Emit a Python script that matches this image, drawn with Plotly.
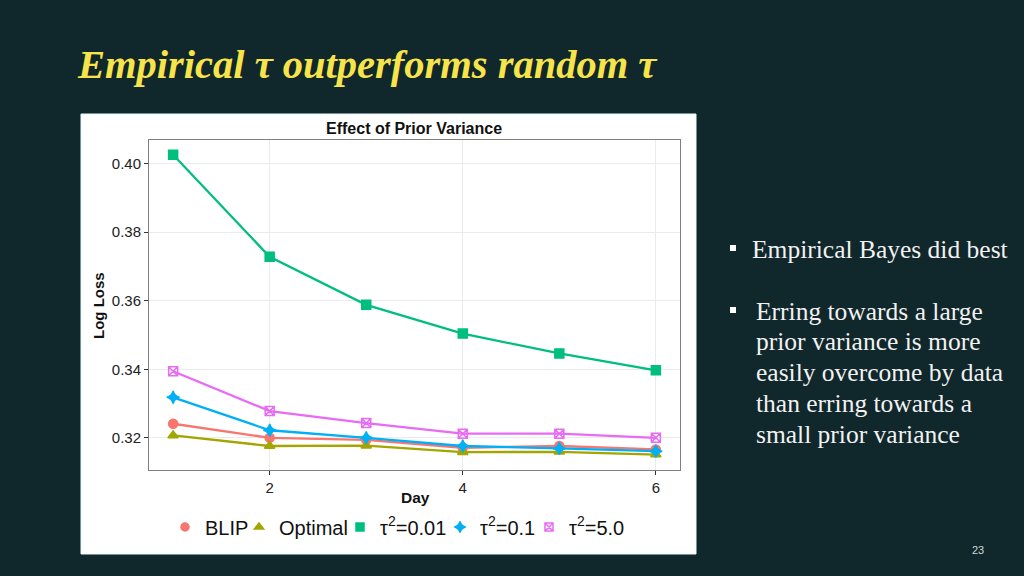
import plotly.graph_objects as go

days = [1, 2, 3, 4, 5, 6]
blip = [0.3241, 0.3200, 0.3194, 0.3171, 0.3176, 0.3166]
optimal = [0.3207, 0.3176, 0.3177, 0.3158, 0.3159, 0.3151]
tau_001 = [0.4026, 0.3728, 0.3588, 0.3504, 0.3446, 0.3397]
tau_01 = [0.3318, 0.3222, 0.3200, 0.3176, 0.3169, 0.3161]
tau_50 = [0.3394, 0.3278, 0.3243, 0.3212, 0.3212, 0.3200]

series_names = ["BLIP", "Optimal", "τ<sup>2</sup>=0.01", "τ<sup>2</sup>=0.1", "τ<sup>2</sup>=5.0"]
series_values = [blip, optimal, tau_001, tau_01, tau_50]
colors = ["#F8766D", "#A3A500", "#00BF7D", "#00B0F6", "#E76BF3"]
symbols = ["circle", "triangle-up", "square", "star-diamond", "square-x-open"]

x_ticks = [2, 4, 6]
y_ticks = [0.32, 0.34, 0.36, 0.38, 0.40]

W, H = 1024, 576
def px(x):
    return x / W
def py(y):
    return 1 - y / H

legend_ids = ["legend", "legend2", "legend3", "legend4", "legend5"]
legend_text_x = [207, 281, 382, 482, 571]

fig = go.Figure()
for name, vals, c, s, lid in zip(series_names, series_values, colors, symbols, legend_ids):
    fig.add_trace(go.Scatter(
        x=days, y=vals, mode="lines+markers", name=name,
        line=dict(color=c, width=2.3),
        marker=dict(color=c, symbol=s, size=9,
                    line=dict(color=c, width=1.5)),
        showlegend=False,
    ))
    fig.add_trace(go.Scatter(
        x=[None], y=[None], mode="markers", name=name,
        marker=dict(color=c, symbol=s, size=8, line=dict(color=c, width=1.5)),
        showlegend=True, legend=lid,
    ))

bg = "#10272b"
layout_legends = {}
for lid, tx in zip(legend_ids, legend_text_x):
    layout_legends[lid] = dict(
        x=px(tx - 42), xanchor="left",
        y=py(527), yanchor="middle",
        font=dict(family="Liberation Sans, Arial", size=20, color="#111111"),
        bgcolor="rgba(0,0,0,0)",
        itemwidth=30,
    )

fig.update_layout(
    width=W, height=H,
    margin=dict(l=0, r=0, t=0, b=0),
    paper_bgcolor=bg,
    plot_bgcolor="white",
    font=dict(family="Liberation Sans, Arial", color="#222222"),
    xaxis=dict(
        domain=[px(149), px(680)],
        range=[0.75, 6.25],
        tickvals=x_ticks,
        ticks="outside", ticklen=4, tickcolor="#333333",
        tickfont=dict(size=15, color="#222222"),
        showgrid=True, gridcolor="#ebebeb", gridwidth=1,
        showline=True, linecolor="#7f7f7f", linewidth=1, mirror=True,
        zeroline=False,
        anchor="y",
    ),
    yaxis=dict(
        domain=[py(470), py(140)],
        range=[0.3106, 0.4069],
        tickvals=y_ticks,
        ticktext=["%.2f" % v for v in y_ticks],
        ticks="outside", ticklen=4, tickcolor="#333333",
        tickfont=dict(size=15, color="#222222"),
        showgrid=True, gridcolor="#ebebeb", gridwidth=1,
        showline=True, linecolor="#7f7f7f", linewidth=1, mirror=True,
        zeroline=False,
        anchor="x",
    ),
    shapes=[
        dict(type="rect", xref="paper", yref="paper",
             x0=px(81), x1=px(696), y0=py(554), y1=py(114),
             fillcolor="white", line=dict(color="#e6fbff", width=1),
             layer="below"),
        dict(type="rect", xref="paper", yref="paper",
             x0=px(730), x1=px(736), y0=py(251), y1=py(245),
             fillcolor="white", line=dict(width=0)),
        dict(type="rect", xref="paper", yref="paper",
             x0=px(730), x1=px(736), y0=py(313), y1=py(307),
             fillcolor="white", line=dict(width=0)),
    ],
    **layout_legends,
)

ann = []
ann.append(dict(text="<b><i>Empirical τ outperforms random τ</i></b>",
                x=px(75), y=py(64), xanchor="left", yanchor="middle",
                font=dict(family="Liberation Serif, Times New Roman", size=40.5, color="#f7e34a")))
ann.append(dict(text="<b>Effect of Prior Variance</b>", x=px(414), y=py(128),
                xanchor="center", yanchor="middle",
                font=dict(family="Liberation Sans, Arial", size=16, color="#111111")))
ann.append(dict(text="<b>Log Loss</b>", x=px(98), y=py(306), textangle=-90,
                xanchor="center", yanchor="middle",
                font=dict(family="Liberation Sans, Arial", size=15, color="#111111")))
ann.append(dict(text="<b>Day</b>", x=px(415), y=py(497),
                xanchor="center", yanchor="middle",
                font=dict(family="Liberation Sans, Arial", size=15.5, color="#111111")))
ann.append(dict(text="Empirical Bayes did best", x=px(750), y=py(249),
                xanchor="left", yanchor="middle",
                font=dict(family="Liberation Serif, Times New Roman", size=25.5, color="#f2f2f2")))
lines2 = ["Erring towards a large", "prior variance is more", "easily overcome by data",
          "than erring towards a", "small prior variance"]
for i, t in enumerate(lines2):
    ann.append(dict(text=t, x=px(754), y=py(311 + 30.8 * i),
                    xanchor="left", yanchor="middle",
                    font=dict(family="Liberation Serif, Times New Roman", size=25.5, color="#f2f2f2")))
ann.append(dict(text="23", x=px(978), y=py(550), xanchor="center", yanchor="middle",
                font=dict(family="Liberation Sans, Arial", size=11, color="#d0d8da")))
for a in ann:
    a.update(xref="paper", yref="paper", showarrow=False)
fig.update_layout(annotations=ann)

fig.write_html("out.html",
               config={"displayModeBar": False},
               post_script="document.body.style.margin='0';document.body.style.overflow='hidden';")
